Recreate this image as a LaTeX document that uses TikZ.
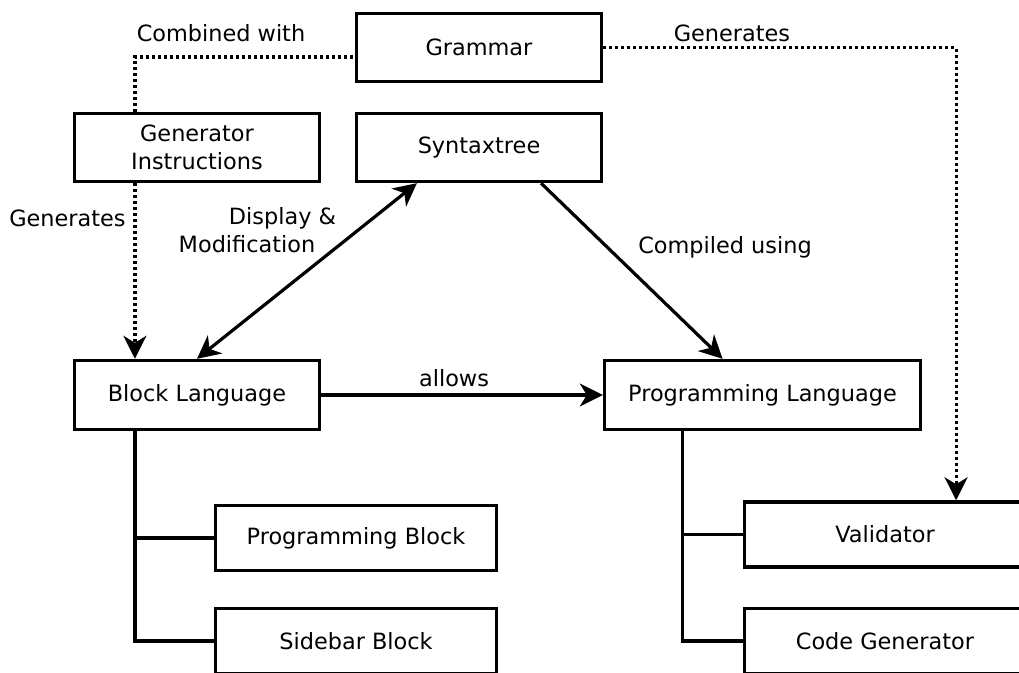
\documentclass[tikz,border=0pt]{standalone}
\usepackage{fontspec}
\setmainfont{DejaVu Sans}
\usetikzlibrary{arrows.meta,calc}
\begin{document}
\begin{tikzpicture}[x=0.5pt,y=-0.5pt,
  font=\fontsize{11.2}{14}\selectfont,
  >={Stealth[length=11.5pt,width=11.5pt,inset=3.5pt]},
  box/.style={draw, line width=1.7pt, inner sep=0pt, align=center,
              minimum width=122.5pt, minimum height=34pt},
  langbox/.style={box, minimum height=34.5pt},
  partbox/.style={box, minimum width=140.5pt, minimum height=32.5pt},
  link/.style={line width=1.6pt},
  dots/.style={line width=1.6pt, dash pattern=on 1.5pt off 1.5pt},
  lbl/.style={anchor=base, inner sep=0pt}]

\useasboundingbox (0,0) rectangle (1019,673);
\clip (0,0) rectangle (1019,673);

% boxes
\node[box] (gram) at (479,47.5) {Grammar};
\node[box] (gi)   at (197,147.5) {Generator\\Instructions};
\node[box] (st)   at (479,147.5) {Syntaxtree};
\node[langbox] (bl) at (197,395) {Block Language};
\node[langbox, minimum width=158pt] (pl) at (762.5,395) {Programming Language};
\node[partbox] (pb) at (356,538) {Programming Block};
\node[partbox] (sb) at (356,641) {Sidebar Block};
\node[partbox] (va) at (885,534.5) {Validator};
\node[partbox] (cg) at (885,641) {Code Generator};

% attachment points on the box borders
\coordinate (gin) at ($(gi.north west)!0.25!(gi.north east)$);
\coordinate (gis) at ($(gi.south west)!0.25!(gi.south east)$);
\coordinate (bln) at ($(bl.north west)!0.25!(bl.north east)$);
\coordinate (bls) at ($(bl.south west)!0.25!(bl.south east)$);
\coordinate (pls) at ($(pl.south west)!0.25!(pl.south east)$);
\coordinate (pln) at ($(pl.north west)!0.375!(pl.north east)$);
\coordinate (stl) at ($(st.south west)!0.25!(st.south east)$);
\coordinate (str) at ($(st.south west)!0.75!(st.south east)$);
\coordinate (van) at ($(va.north west)!0.75!(va.north east)$);
\coordinate (gml) at ($(gram.west)+(0,9.5)$);

% dotted relations
\draw[dots] (gin) |- (gml);
\draw[dots,->] (gis) -- (bln);
\draw[dots,->] (gram.east) -| (van);

% solid relations
\draw[link,<->] (bl.north) -- (stl);
\draw[link,->] (str) -- (pln);
\draw[link,->] (bl.east) -- (pl.west);

% part-of trees
\draw[link] (pb.west) -| (bls);
\draw[link] (sb.west) -| (bls);
\draw[link] (va.west) -| (pls);
\draw[link] (cg.west) -| (pls);

% labels
\node[lbl] (l1) at (221,42) {Combined with};
\node[lbl] (l2) at (732,42) {Generates};
\node[lbl] (l3) at (67.5,227) {Generates};
\node[lbl] (l4) at (282.5,225) {Display \&};
\node[lbl] (l5) at (247,253) {Modification};
\node[lbl] (l6) at (725,254) {Compiled using};
\node[lbl] (l7) at (454,387) {allows};
\end{tikzpicture}
\end{document}
